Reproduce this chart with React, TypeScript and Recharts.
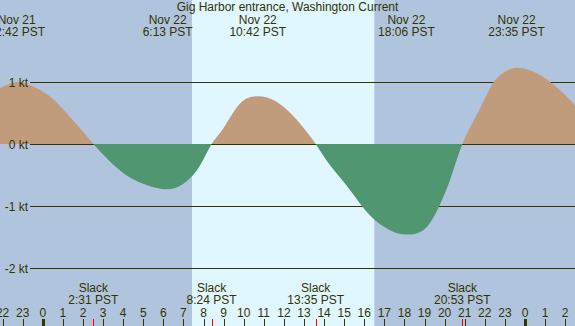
import { AreaChart, Area, XAxis, YAxis, ReferenceArea } from 'recharts';

const hours = [
  -2.13, -1.3, -0.5, 0.35, 1.18, 2.0, 2.517, 3.67, 4.83, 6.217, 7.16, 7.82, 8.4, 8.98, 9.81, 10.7,
  11.64, 12.64, 13.583, 14.29, 15.29, 16.28, 17.28, 18.1, 18.94, 19.6, 20.27, 20.883, 21.6, 22.26,
  22.76, 23.583, 24.59, 25.25, 25.91, 26.49,
];
const knots = [
  0.9, 1.0, 0.93, 0.77, 0.5, 0.2, 0, -0.38, -0.62, -0.73, -0.6, -0.35, 0, 0.25, 0.65, 0.77,
  0.68, 0.39, 0, -0.34, -0.74, -1.15, -1.39, -1.46, -1.39, -1.09, -0.58, 0, 0.47, 0.9,
  1.11, 1.23, 1.14, 1.0, 0.82, 0.63,
];

const hourTicks = [-2, -1, 0, 1, 2, 3, 4, 5, 6, 7, 8, 9, 10, 11, 12, 13, 14, 15, 16, 17, 18, 19, 20, 21, 22, 23, 24, 25, 26];
const knotTicks = [-2, -1, 0, 1];

const eventHours = [-1.3, 6.217, 10.7, 18.1, 23.583];
const eventDates = ['Nov 21', 'Nov 22', 'Nov 22', 'Nov 22', 'Nov 22'];
const eventTimes = ['22:42 PST', '6:13 PST', '10:42 PST', '18:06 PST', '23:35 PST'];

const slackHours = [2.517, 8.4, 13.583, 20.883];
const slackTimes = ['2:31 PST', '8:24 PST', '13:35 PST', '20:53 PST'];

const sunrise = 7.43;
const sunset = 16.5;
const xDomain: [number, number] = [-2.13, 26.49];
const yDomain: [number, number] = [-2.935, 2.3226];

const W = 575;
const H = 326;
const INK = '#333300';
const FONT = '"Liberation Sans", Arial, sans-serif';
const BG_MARGIN = { top: 0, right: 0, bottom: 0, left: -1 };
// axes need at least 1px of room to draw; pull the plot back out to the edges
const AXIS_MARGIN = { top: -1, right: 0, bottom: -2, left: -1 };

const data = hours.map((h, i) => ({ h, v: knots[i] }));

const px = (v: number) => Math.round(v) + 0.5;

function HourTick(props: any) {
  const { x, payload } = props;
  const v = payload.value;
  const label = ((v % 24) + 24) % 24;
  const midnight = label === 0;
  return (
    <g>
      <text x={x} y={316.5} textAnchor="middle" fontSize={12} fontFamily={FONT} fill={INK}>
        {label}
      </text>
      <line x1={px(x)} x2={px(x)} y1={319} y2={326} stroke={INK} strokeWidth={midnight ? 3 : 1} />
    </g>
  );
}

function SlackTick(props: any) {
  const { x, payload } = props;
  const i = slackHours.indexOf(payload.value);
  return (
    <g>
      <text x={x} y={291.5} textAnchor="middle" fontSize={12} fontFamily={FONT} fill={INK}>
        Slack
      </text>
      <text x={x} y={304} textAnchor="middle" fontSize={12} fontFamily={FONT} fill={INK}>
        {slackTimes[i]}
      </text>
      <line x1={px(x)} x2={px(x)} y1={319} y2={326} stroke="#ff0000" strokeWidth={1} />
    </g>
  );
}

function EventTick(props: any) {
  const { x, payload } = props;
  const i = eventHours.indexOf(payload.value);
  return (
    <g>
      <text x={x} y={24} textAnchor="middle" fontSize={12} fontFamily={FONT} fill={INK}>
        {eventDates[i]}
      </text>
      <text x={x} y={36} textAnchor="middle" fontSize={12} fontFamily={FONT} fill={INK}>
        {eventTimes[i]}
      </text>
    </g>
  );
}

// grid line for each knot tick, drawn under the flow
function GridTick(props: any) {
  const { y } = props;
  const yy = px(y);
  return <line x1={30} x2={W} y1={yy} y2={yy} stroke={INK} strokeWidth={1} />;
}

function KnotTick(props: any) {
  const { y, payload } = props;
  return (
    <text x={28} y={y + 4.5} textAnchor="end" fontSize={12} fontFamily={FONT} fill={INK}>
      {payload.value} kt
    </text>
  );
}

const zeroOffset = yDomain[1] / (yDomain[1] - yDomain[0]);

export default function App() {
  return (
    <div style={{ position: 'absolute', left: 0, top: 0, width: W, height: H }}>
      {/* day / night bands and grid underneath */}
      <div style={{ position: 'absolute', left: 0, top: 0 }}>
        <AreaChart width={W} height={H} data={data} margin={BG_MARGIN}>
          <XAxis dataKey="h" type="number" domain={xDomain} allowDataOverflow hide />
          <YAxis
            type="number"
            domain={yDomain}
            allowDataOverflow
            ticks={knotTicks}
            interval={0}
            width={1}
            axisLine={false}
            tickLine={false}
            tick={<GridTick />}
          />
          <ReferenceArea x1={xDomain[0]} x2={sunrise} y1={yDomain[0]} y2={yDomain[1]} fill="#b0c4de" fillOpacity={1} stroke="none" />
          <ReferenceArea x1={sunrise} x2={sunset} y1={yDomain[0]} y2={yDomain[1]} fill="#e0f7ff" fillOpacity={1} stroke="none" />
          <ReferenceArea x1={sunset} x2={xDomain[1]} y1={yDomain[0]} y2={yDomain[1]} fill="#b0c4de" fillOpacity={1} stroke="none" />
        </AreaChart>
      </div>
      <div style={{ position: 'absolute', left: 0, top: 0 }}>
        <AreaChart width={W} height={H} data={data} margin={AXIS_MARGIN}>
          <defs>
            <linearGradient id="flowFill" gradientUnits="userSpaceOnUse" x1={0} y1={0} x2={0} y2={H}>
              <stop offset={0} stopColor="#c09c7c" />
              <stop offset={zeroOffset} stopColor="#c09c7c" />
              <stop offset={zeroOffset} stopColor="#509670" />
              <stop offset={1} stopColor="#509670" />
            </linearGradient>
          </defs>
          <XAxis
            dataKey="h"
            type="number"
            domain={xDomain}
            allowDataOverflow
            ticks={hourTicks}
            interval={0}
            height={1}
            axisLine={false}
            tickLine={false}
            tick={<HourTick />}
          />
          <XAxis
            xAxisId="slack"
            dataKey="h"
            type="number"
            domain={xDomain}
            allowDataOverflow
            ticks={slackHours}
            interval={0}
            height={1}
            axisLine={false}
            tickLine={false}
            tick={<SlackTick />}
          />
          <XAxis
            xAxisId="events"
            dataKey="h"
            orientation="top"
            type="number"
            domain={xDomain}
            allowDataOverflow
            ticks={eventHours}
            interval={0}
            height={1}
            axisLine={false}
            tickLine={false}
            tick={<EventTick />}
          />
          <YAxis
            type="number"
            domain={yDomain}
            allowDataOverflow
            ticks={knotTicks}
            interval={0}
            width={1}
            axisLine={false}
            tickLine={false}
            tick={<KnotTick />}
          />
          <Area
            type="natural"
            dataKey="v"
            baseValue={0}
            stroke="none"
            fill="url(#flowFill)"
            fillOpacity={1}
            isAnimationActive={false}
            dot={false}
            activeDot={false}
          />
        </AreaChart>
      </div>
      <div
        style={{
          position: 'absolute',
          left: 0,
          top: 0,
          width: W,
          textAlign: 'center',
          fontFamily: FONT,
          fontSize: 12,
          lineHeight: '14px',
          color: INK,
          pointerEvents: 'none',
        }}
      >
        Gig Harbor entrance, Washington Current
      </div>
    </div>
  );
}
